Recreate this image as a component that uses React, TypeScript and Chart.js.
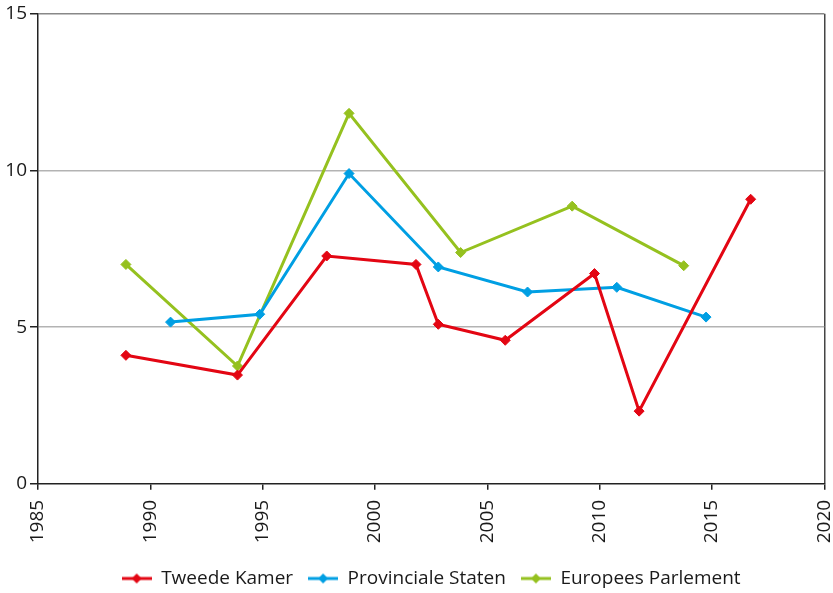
import React, { useEffect, useRef } from 'react';
import { Chart, registerables } from 'chart.js';

Chart.register(...registerables);

const seriesNames = ['Tweede Kamer', 'Provinciale Staten', 'Europees Parlement'];
const seriesColors = ['#e30613', '#009fe3', '#95c11f'];

const tkYears = [1989, 1994, 1998, 2002, 2003, 2006, 2010, 2012, 2017];
const tkValues = [4.1, 3.47, 7.27, 7.0, 5.09, 4.58, 6.71, 2.32, 9.08];

const psYears = [1991, 1995, 1999, 2003, 2007, 2011, 2015];
const psValues = [5.16, 5.41, 9.9, 6.92, 6.12, 6.27, 5.32];

const epYears = [1989, 1994, 1999, 2004, 2009, 2014];
const epValues = [7.0, 3.76, 11.82, 7.38, 8.86, 6.96];

const xTickMin = 1985;
const xTickMax = 2020;
const xTickStep = 5;
const yTickMin = 0;
const yTickMax = 15;
const yTickStep = 5;

const FONT = '"Open Sans", "DejaVu Sans", sans-serif';

function makeIcon(color: string): HTMLCanvasElement {
  const c = document.createElement('canvas');
  c.width = 30;
  c.height = 12;
  const g = c.getContext('2d')!;
  g.strokeStyle = color;
  g.lineWidth = 3;
  g.beginPath();
  g.moveTo(0, 6);
  g.lineTo(30, 6);
  g.stroke();
  g.fillStyle = color;
  g.beginPath();
  g.moveTo(15, 1);
  g.lineTo(20, 6);
  g.lineTo(15, 11);
  g.lineTo(10, 6);
  g.closePath();
  g.fill();
  return c;
}

const legendPlacer = {
  id: 'legendPlacer',
  afterLayout(chart: any) {
    const lg = chart.legend;
    if (!lg) return;
    lg.left = chart.chartArea.left;
    lg.right = chart.chartArea.right;
    lg.top += 5;
    lg.bottom += 5;
  },
};

export default function App() {
  const ref = useRef<HTMLCanvasElement | null>(null);

  useEffect(() => {
    if (!ref.current) return;
    const icons = seriesColors.map(makeIcon);
    const pairs = [
      [tkYears, tkValues],
      [psYears, psValues],
      [epYears, epValues],
    ];
    const datasets = pairs.map(([xs, ys], i) => ({
      label: seriesNames[i],
      data: xs.map((x, j) => ({ x, y: ys[j] })),
      borderColor: seriesColors[i],
      backgroundColor: seriesColors[i],
      borderWidth: 3,
      pointStyle: 'rectRot' as const,
      pointRadius: 5,
      pointBorderWidth: 1,
      pointBackgroundColor: seriesColors[i],
      pointBorderColor: seriesColors[i],
      tension: 0,
      xAxisID: 'x',
      yAxisID: 'y',
    }));

    const chart = new Chart(ref.current, {
      type: 'line',
      data: { datasets },
      plugins: [legendPlacer],
      options: {
        animation: false,
        responsive: true,
        maintainAspectRatio: false,
        layout: { padding: { top: 13.7, right: 8.7, left: 0, bottom: 0 } },
        plugins: {
          tooltip: { enabled: false },
          legend: {
            position: 'bottom',
            labels: {
              usePointStyle: true,
              pointStyleWidth: 30,
              boxHeight: 12,
              padding: 15,
              color: '#1a1a1a',
              font: { family: FONT, size: 19 },
              generateLabels: (ch: any) =>
                Chart.defaults.plugins.legend.labels
                  .generateLabels(ch)
                  .map((l: any, i: number) => ({ ...l, pointStyle: icons[i] })),
            },
          },
        },
        scales: {
          x: {
            type: 'linear',
            display: false,
            min: 1985.06,
            max: 2020.3,
          },
          xAxis: {
            type: 'linear',
            position: 'bottom',
            min: xTickMin,
            max: xTickMax,
            afterFit: (s: any) => {
              s.paddingLeft = 0;
              s.paddingRight = 0;
              s.height = s.height - 4.3;
            },
            ticks: {
              stepSize: xTickStep,
              minRotation: 90,
              maxRotation: 90,
              padding: 10,
              color: '#1a1a1a',
              font: { family: FONT, size: 19 },
              callback: (v: any) => String(v),
            },
            grid: {
              drawOnChartArea: true,
              color: (ctx: any) =>
                ctx.tick && ctx.tick.value === xTickMax ? '#444' : 'rgba(0,0,0,0)',
              tickColor: '#222',
              tickLength: 6,
              lineWidth: 1.5,
            },
            border: { display: true, color: '#222', width: 1.5 },
          },
          y: {
            type: 'linear',
            min: yTickMin,
            max: yTickMax,
            afterFit: (s: any) => {
              s.width = 38;
              s.paddingTop = 0;
              s.paddingBottom = 0;
            },
            ticks: {
              stepSize: yTickStep,
              padding: 3,
              color: '#1a1a1a',
              font: { family: FONT, size: 19 },
              callback: (v: any) => String(v),
            },
            grid: {
              color: (ctx: any) => {
                const v = ctx.tick ? ctx.tick.value : null;
                if (v === yTickMax) return '#888';
                if (v === yTickMin) return 'rgba(0,0,0,0)';
                return '#b3b3b3';
              },
              tickColor: '#222',
              tickLength: 8,
              lineWidth: 1.5,
            },
            border: { display: true, color: '#222', width: 1.5 },
          },
        },
      },
    });
    return () => chart.destroy();
  }, []);

  return (
    <div style={{ position: 'fixed', left: 0, top: 0, width: 833, height: 593, background: '#fff' }}>
      <canvas ref={ref} />
    </div>
  );
}
